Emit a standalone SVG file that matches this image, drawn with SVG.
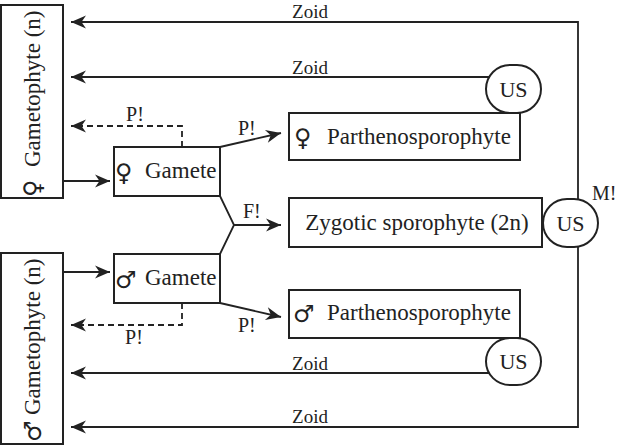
<svg xmlns="http://www.w3.org/2000/svg" width="620" height="445" viewBox="0 0 620 445">
<style>
.box{fill:#fff;stroke:#222;stroke-width:2}
.ln{fill:none;stroke:#222;stroke-width:1.8}
.dash{fill:none;stroke:#222;stroke-width:1.8;stroke-dasharray:6 4}
.t{font-family:'Liberation Serif',serif;fill:#222}
.sym{font-family:'DejaVu Sans',sans-serif;font-weight:bold;fill:#222}
</style>
<defs>
<marker id="ah" markerUnits="userSpaceOnUse" markerWidth="18" markerHeight="16" viewBox="-16 -8 18 16" refX="0" refY="0" orient="auto">
<path d="M0,0 L-15,-6.5 L-10.5,0 L-15,6.5 Z" fill="#222"/>
</marker>
</defs>
<rect width="620" height="445" fill="#fff"/>

<g id="connectors">
<polyline class="ln" points="578,199 578,22 71,22" marker-end="url(#ah)"/>
<polyline class="ln" points="578,247 578,427 71,427" marker-end="url(#ah)"/>
<line class="ln" x1="489" y1="77" x2="71" y2="77" marker-end="url(#ah)"/>
<line class="ln" x1="489" y1="373" x2="71" y2="373" marker-end="url(#ah)"/>
<polyline class="dash" points="182,147 182,126 71,126" marker-end="url(#ah)"/>
<polyline class="dash" points="182,303 182,325 71,325" marker-end="url(#ah)"/>
<line class="ln" x1="63" y1="181" x2="110" y2="181" marker-end="url(#ah)"/>
<line class="ln" x1="63" y1="272" x2="110" y2="272" marker-end="url(#ah)"/>
<line class="ln" x1="220" y1="147" x2="281" y2="133" marker-end="url(#ah)"/>
<line class="ln" x1="220" y1="303" x2="281" y2="317" marker-end="url(#ah)"/>
<polyline class="ln" points="220,196 234,225 220,254"/>
<line class="ln" x1="234" y1="225" x2="281" y2="225" marker-end="url(#ah)"/>
<text class="t" font-family="Liberation Serif, serif" x="310" y="18" font-size="19" text-anchor="middle">Zoid</text>
<text class="t" font-family="Liberation Serif, serif" x="310" y="74" font-size="19" text-anchor="middle">Zoid</text>
<text class="t" font-family="Liberation Serif, serif" x="310" y="370" font-size="19" text-anchor="middle">Zoid</text>
<text class="t" font-family="Liberation Serif, serif" x="310" y="423" font-size="19" text-anchor="middle">Zoid</text>
<text class="t" font-family="Liberation Serif, serif" x="135" y="121" font-size="20" text-anchor="middle">P!</text>
<text class="t" font-family="Liberation Serif, serif" x="134" y="344" font-size="20" text-anchor="middle">P!</text>
<text class="t" font-family="Liberation Serif, serif" x="238" y="135" font-size="20">P!</text>
<text class="t" font-family="Liberation Serif, serif" x="238" y="332" font-size="20">P!</text>
<text class="t" font-family="Liberation Serif, serif" x="243" y="218" font-size="20">F!</text>
<text class="t" font-family="Liberation Serif, serif" x="592" y="200" font-size="20">M!</text>
</g>

<g id="female-gametophyte">
<rect class="box" x="1" y="5" width="62" height="193"/>
<text class="t" font-family="Liberation Serif, serif" transform="translate(40,167) rotate(-90)" font-size="23">Gametophyte (n)</text>
<text class="sym" transform="translate(41,197) rotate(-90)" font-size="24">♀</text>
</g>

<g id="male-gametophyte">
<rect class="box" x="1" y="253" width="62" height="191"/>
<text class="t" font-family="Liberation Serif, serif" transform="translate(40,415) rotate(-90)" font-size="23">Gametophyte (n)</text>
<text class="sym" transform="translate(41,442) rotate(-90)" font-size="24">♂</text>
</g>

<g id="female-gamete">
<rect class="box" x="114" y="147" width="106" height="49"/>
<text class="sym" x="115" y="181" font-size="24">♀</text>
<text class="t" font-family="Liberation Serif, serif" x="145" y="178" font-size="23">Gamete</text>
</g>

<g id="male-gamete">
<rect class="box" x="114" y="254" width="106" height="49"/>
<text class="sym" x="115" y="288" font-size="24">♂</text>
<text class="t" font-family="Liberation Serif, serif" x="145" y="285" font-size="23">Gamete</text>
</g>

<g id="female-parthenosporophyte">
<rect class="box" x="289" y="113" width="231" height="47"/>
<text class="sym" x="294" y="146" font-size="24">♀</text>
<text class="t" font-family="Liberation Serif, serif" x="327" y="144" font-size="23">Parthenosporophyte</text>
</g>

<g id="zygotic-sporophyte">
<rect class="box" x="289" y="198" width="253" height="49"/>
<text class="t" font-family="Liberation Serif, serif" x="417" y="230" font-size="23" text-anchor="middle">Zygotic sporophyte (2n)</text>
</g>

<g id="male-parthenosporophyte">
<rect class="box" x="289" y="290" width="231" height="48"/>
<text class="sym" x="293" y="322" font-size="24">♂</text>
<text class="t" font-family="Liberation Serif, serif" x="327" y="320" font-size="23">Parthenosporophyte</text>
</g>

<g id="us-top">
<rect class="box" x="486" y="65" width="55" height="48" rx="24" ry="24"/>
<text class="t" font-family="Liberation Serif, serif" x="513.5" y="97" font-size="22" text-anchor="middle">US</text>
</g>

<g id="us-middle">
<rect class="box" x="543" y="199" width="55" height="48" rx="24" ry="24"/>
<text class="t" font-family="Liberation Serif, serif" x="570.5" y="231" font-size="22" text-anchor="middle">US</text>
</g>

<g id="us-bottom">
<rect class="box" x="486" y="338" width="55" height="47" rx="24" ry="24"/>
<text class="t" font-family="Liberation Serif, serif" x="513.5" y="369" font-size="22" text-anchor="middle">US</text>
</g>
</svg>
